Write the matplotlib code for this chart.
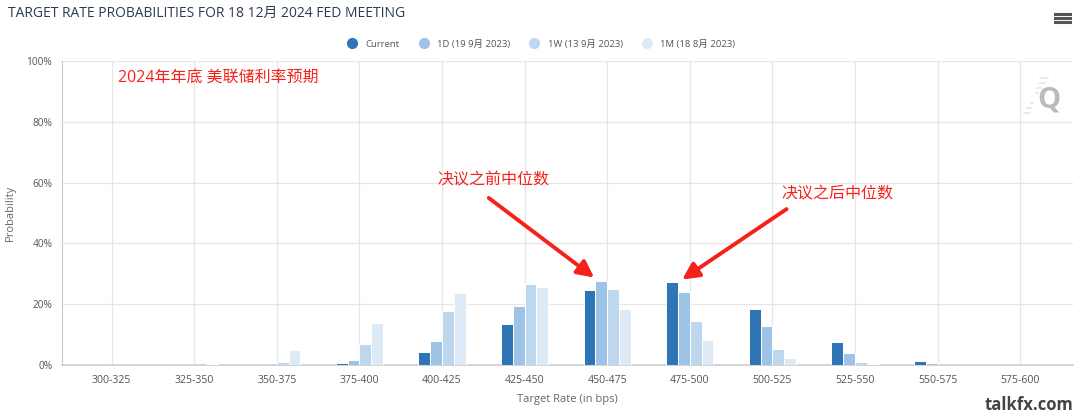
import matplotlib
matplotlib.use("Agg")
import matplotlib.pyplot as plt
from matplotlib.lines import Line2D
import numpy as np

# 数据
categories = ["300-325", "325-350", "350-375", "375-400", "400-425", "425-450",
              "450-475", "475-500", "500-525", "525-550", "550-575", "575-600"]
current = [0, 0, 0, 0.6, 4.2, 13.6, 24.8, 27.2, 18.4, 7.5, 1.4, 0]
one_day = [0, 0, 0, 1.7, 8.0, 19.3, 27.5, 24.0, 12.7, 4.0, 0.5, 0]
one_week = [0, 0, 1.1, 6.9, 17.8, 26.8, 24.9, 14.6, 5.3, 0.9, 0.05, 0]
one_month = [0, 0.4, 4.8, 13.8, 23.7, 25.7, 18.3, 8.2, 2.4, 0.3, 0, 0]
series_names = ["Current", "1D (19 9月 2023)", "1W (13 9月 2023)", "1M (18 8月 2023)"]
colors = ["#2e75b6", "#9dc3e6", "#bdd7ee", "#deebf7"]
yticks = [0, 20, 40, 60, 80, 100]

plt.rcParams['font.family'] = ['Open Sans', 'Noto Sans CJK SC', 'DejaVu Sans']

fig = plt.figure(figsize=(10.8, 4.16), dpi=100)
ax = fig.add_axes([62 / 1080, 51 / 416, 1011 / 1080, 304 / 416])

x = np.arange(len(categories))
w = 0.143
for i, vals in enumerate([current, one_day, one_week, one_month]):
    ax.bar(x + (i - 1.5) * w, vals, width=w, color=colors[i],
           edgecolor="white", linewidth=0.7, zorder=3)

ax.set_xlim(-0.6, 11.64)
ax.set_ylim(0, 100)
ax.set_xticks(x)
ax.set_xticklabels(categories, fontsize=7.6, color="#555555")
ax.set_yticks(yticks)
ax.set_yticklabels([f"{v}%" for v in yticks], fontsize=7.3, color="#555555")
ax.tick_params(axis="both", length=0, pad=7)
ax.grid(True, color="#e6e6e6", linewidth=0.9, zorder=0)
for s in ["top", "right"]:
    ax.spines[s].set_visible(False)
ax.spines["left"].set_color("#cccccc")
ax.spines["bottom"].set_color("#cccccc")
ax.spines["bottom"].set_linewidth(1.2)
ax.set_xlabel("Target Rate (in bps)", fontsize=8, color="#666666", labelpad=6)
ax.set_ylabel("Probability", fontsize=8, color="#666666")
ax.yaxis.set_label_coords(-0.0455, 0.5)

# 标题
fig.text(8 / 1080, 1 - 13 / 416, "TARGET RATE PROBABILITIES FOR 18 12月 2024 FED MEETING",
         fontsize=10, color="#2b3a55", va="center", ha="left")

# 图例
handles = [Line2D([], [], marker="o", linestyle="", markersize=7,
                  markerfacecolor=c, markeredgecolor=c) for c in colors]
fig.legend(handles, series_names, loc="center", bbox_to_anchor=(0.499, 1 - 44 / 416),
           ncol=4, frameon=False, fontsize=6.8, handletextpad=0.4, columnspacing=1.6,
           labelcolor="#555555")

# 菜单图标
for yy in [14, 18, 22]:
    fig.add_artist(Line2D([1055 / 1080, 1070 / 1080], [1 - yy / 416] * 2,
                          color="#555555", linewidth=2.2))

# Q logo
for k in range(8):
    yy = 78 + k * 5
    fig.add_artist(Line2D([(1048 - k * 3.5) / 1080, (1040 - k * 1.5) / 1080], [1 - yy / 416] * 2,
                          color="#d6ecf8", linewidth=1.2))
fig.text(1049 / 1080, 1 - 100 / 416, "Q", fontsize=21, fontweight="bold",
         color="#bbbbbb", ha="center", va="center")

# 红色注释
red = "#f5221b"
fig.text(118 / 1080, 1 - 78 / 416, "2024年年底 美联储利率预期", fontsize=11.5,
         color=red, ha="left", va="center")
ax.annotate("", xy=(5.87, 28.2), xytext=(4.54, 55.5),
            arrowprops=dict(arrowstyle="-|>", color=red, lw=2.8, mutation_scale=25))
ax.annotate("", xy=(6.88, 27.6), xytext=(8.2, 51.8),
            arrowprops=dict(arrowstyle="-|>", color=red, lw=2.8, mutation_scale=25))
fig.text(493 / 1080, 1 - 180 / 416, "决议之前中位数", fontsize=11.5, color=red,
         ha="center", va="center")
fig.text(837 / 1080, 1 - 194 / 416, "决议之后中位数", fontsize=11.5, color=red,
         ha="center", va="center")

# 水印
fig.text(1073 / 1080, 1 - 405 / 416, "talkfx.com", fontsize=12, fontweight="bold",
         color="#444444", ha="right", va="center")

fig.savefig("out.png", dpi=100)
